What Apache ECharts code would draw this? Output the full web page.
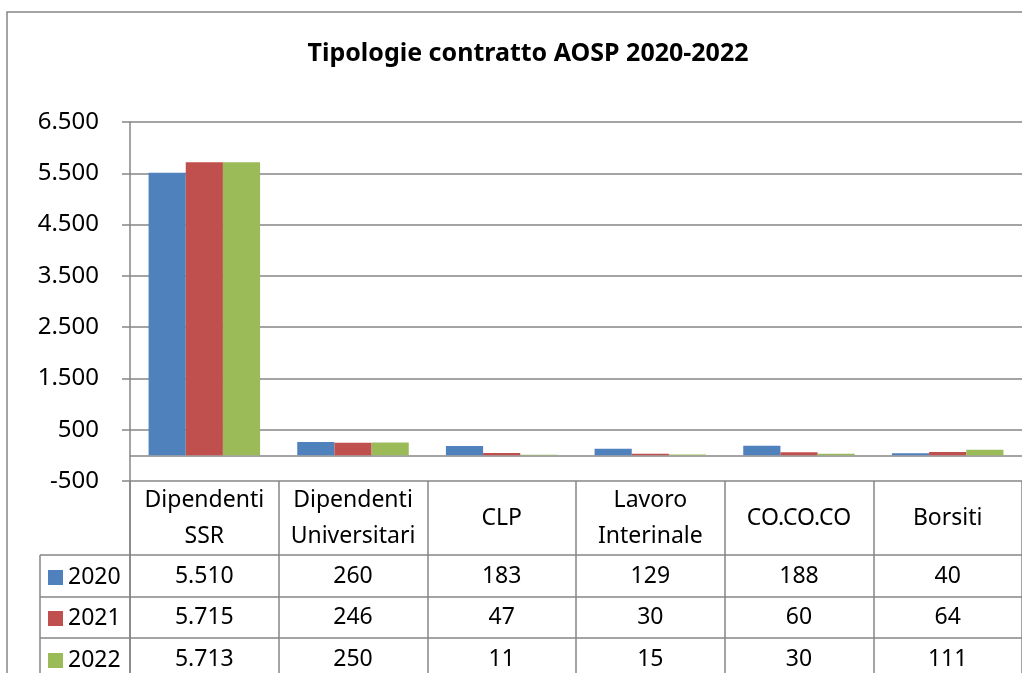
<!DOCTYPE html>
<html>
<head>
<meta charset="utf-8">
<script src="https://cdn.jsdelivr.net/npm/echarts@6/dist/echarts.min.js"></script>
<style>
  html, body { margin: 0; padding: 0; background: #fff; }
  #main { width: 1022px; height: 673px; }
</style>
</head>
<body>
<div id="main"></div>
<script>
// dati
var categories = ['Dipendenti\nSSR', 'Dipendenti\nUniversitari', 'CLP', 'Lavoro\nInterinale', 'CO.CO.CO', 'Borsiti'];
var years = ['2020', '2021', '2022'];
var values2020 = [5510, 260, 183, 129, 188, 40];
var values2021 = [5715, 246, 47, 30, 60, 64];
var values2022 = [5713, 250, 11, 15, 30, 111];
var yTicks = [-500, 500, 1500, 2500, 3500, 4500, 5500, 6500];

var seriesValues = [values2020, values2021, values2022];
var colors = ['#4f81bd', '#c0504d', '#9bbb59'];
var lineColor = '#868686';
var font = 'Noto Sans';

function fmt(v) {
  // separatore migliaia all'italiana
  var s = String(Math.abs(v)).replace(/\B(?=(\d{3})+(?!\d))/g, '.');
  return (v < 0 ? '-' : '') + s;
}

// righe della tabella dati sotto il grafico
var rowMargins = [95, 136, 178];
function rowAxis(k) {
  return {
    type: 'category',
    gridIndex: 0,
    position: 'bottom',
    data: categories,
    axisLine: { show: false, onZero: false },
    axisTick: { show: false },
    splitLine: { show: false },
    axisLabel: {
      interval: 0,
      margin: rowMargins[k],
      verticalAlign: 'middle',
      fontFamily: font,
      fontSize: 23,
      color: '#000',
      formatter: function (v, i) { return fmt(seriesValues[k][i]); }
    }
  };
}

// una legenda per riga della tabella
var rowTops = [566, 607, 649];
var legends = years.map(function (y, k) {
  return {
    data: [y],
    left: 48,
    top: rowTops[k],
    padding: 0,
    icon: 'rect',
    itemWidth: 15,
    itemHeight: 15,
    selectedMode: false,
    textStyle: { fontFamily: font, fontSize: 23, lineHeight: 20, color: '#000' }
  };
});

var chart = echarts.init(document.getElementById('main'));

var option = {
  backgroundColor: '#fff',
  animation: false,
  title: {
    text: 'Tipologie contratto AOSP 2020-2022',
    left: 523,
    top: 36,
    textAlign: 'center',
    textStyle: { fontFamily: font, fontSize: 25, fontWeight: 'bold', color: '#000' }
  },
  legend: legends,
  grid: [
    { left: 130, top: 122, width: 902, height: 359 },
    { left: 130, top: 481, width: 902, height: 220 }
  ],
  xAxis: [
    {
      type: 'category',
      gridIndex: 0,
      data: categories,
      axisLine: { onZero: true, lineStyle: { color: lineColor, width: 1.5 } },
      axisTick: { show: false },
      axisLabel: { show: false }
    },
    {
      type: 'category',
      gridIndex: 0,
      position: 'bottom',
      data: categories,
      axisLine: { show: false, onZero: false },
      axisTick: { show: false },
      axisLabel: {
        interval: 0,
        margin: 37,
        verticalAlign: 'middle',
        lineHeight: 36,
        fontFamily: font,
        fontSize: 23,
        color: '#000'
      }
    },
    rowAxis(0),
    rowAxis(1),
    rowAxis(2),
    {
      // linee verticali della tabella
      type: 'category',
      gridIndex: 1,
      data: categories,
      axisLine: { show: false },
      axisTick: { show: false },
      axisLabel: { show: false },
      splitLine: { show: true, interval: 0, lineStyle: { color: lineColor, width: 1.5 } }
    }
  ],
  yAxis: [
    {
      type: 'value',
      gridIndex: 0,
      min: -500,
      max: 6500,
      axisLine: { show: true, lineStyle: { color: lineColor, width: 1.5 } },
      axisTick: { show: true, length: 8, customValues: yTicks, lineStyle: { color: lineColor, width: 1.5 } },
      axisLabel: {
        customValues: yTicks,
        margin: 31,
        fontFamily: font,
        fontSize: 24,
        color: '#000',
        formatter: fmt
      },
      splitLine: { show: true, lineStyle: { color: lineColor, width: 1.5 } }
    },
    { type: 'value', gridIndex: 1, show: false }
  ],
  graphic: [
    { type: 'rect', silent: true, shape: { x: 7, y: 12, width: 1100, height: 700 },
      style: { fill: 'none', stroke: lineColor, lineWidth: 1.5 } },
    { type: 'line', silent: true, shape: { x1: 130, y1: 481, x2: 130, y2: 680 },
      style: { stroke: lineColor, lineWidth: 1.5 } },
    { type: 'line', silent: true, shape: { x1: 40, y1: 555, x2: 40, y2: 680 },
      style: { stroke: lineColor, lineWidth: 1.5 } },
    { type: 'line', silent: true, shape: { x1: 40, y1: 555, x2: 1040, y2: 555 },
      style: { stroke: lineColor, lineWidth: 1.5 } },
    { type: 'line', silent: true, shape: { x1: 40, y1: 597, x2: 1040, y2: 597 },
      style: { stroke: lineColor, lineWidth: 1.5 } },
    { type: 'line', silent: true, shape: { x1: 40, y1: 638, x2: 1040, y2: 638 },
      style: { stroke: lineColor, lineWidth: 1.5 } }
  ],
  series: years.map(function (y, k) {
    return {
      name: y,
      type: 'bar',
      xAxisIndex: 0,
      yAxisIndex: 0,
      data: seriesValues[k],
      barGap: '0%',
      barCategoryGap: '25%',
      itemStyle: { color: colors[k] }
    };
  })
};

chart.setOption(option);
</script>
</body>
</html>
